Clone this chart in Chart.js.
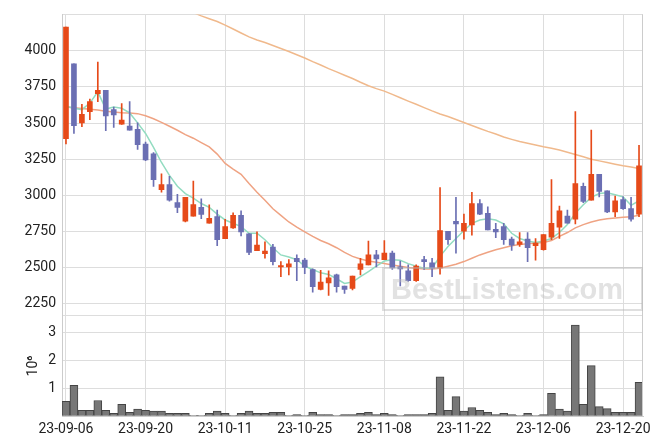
<!DOCTYPE html>
<html>
<head>
<meta charset="utf-8">
<title>Price and volume</title>
<script src="https://cdn.jsdelivr.net/npm/chart.js"></script>
<style>
  body { margin: 0; background: #fff; }
  #wrap { position: relative; width: 663px; height: 444px; }
  #mark {
    position: absolute; left: 382px; top: 267px; width: 250px; height: 40px;
    padding-left: 7px;
    border: 2px solid rgba(185, 185, 185, 0.45);
    font: bold 29px "Liberation Sans", Arial, sans-serif; line-height: 40px;
    color: rgba(190, 190, 190, 0.45); pointer-events: none; white-space: nowrap;
  }
</style>
</head>
<body>
<div id="wrap">
  <canvas id="priceChart"></canvas>
  <div id="mark">BestListens.com</div>
</div>

<script>
    // trading days shown on the x axis
    const dates = [
        '23-09-06','23-09-07','23-09-08','23-09-11','23-09-12','23-09-13','23-09-14','23-09-15','23-09-18','23-09-19',
        '23-09-20','23-09-21','23-09-22','23-09-25','23-09-26','23-09-27','23-10-04','23-10-05','23-10-06','23-10-10',
        '23-10-11','23-10-12','23-10-13','23-10-16','23-10-17','23-10-18','23-10-19','23-10-20','23-10-23','23-10-24',
        '23-10-25','23-10-26','23-10-27','23-10-30','23-10-31','23-11-01','23-11-02','23-11-03','23-11-06','23-11-07',
        '23-11-08','23-11-09','23-11-10','23-11-13','23-11-14','23-11-15','23-11-16','23-11-17','23-11-20','23-11-21',
        '23-11-22','23-11-23','23-11-24','23-11-27','23-11-28','23-11-29','23-11-30','23-12-01','23-12-04','23-12-05',
        '23-12-06','23-12-07','23-12-08','23-12-11','23-12-12','23-12-13','23-12-14','23-12-15','23-12-18','23-12-19',
        '23-12-20','23-12-21','23-12-22'
    ];
    const dateTicks = ['23-09-06','23-09-20','23-10-11','23-10-25','23-11-08','23-11-22','23-12-06','23-12-20'];

    const openPx = [
        3392,3909,3501,3579,3703,3726,3593,3492,3479,3456,
        3355,3286,3039,3074,2950,2820,2856,2916,2806,2852,
        2699,2774,2861,2733,2616,2596,2641,2504,2504,2564,
        2552,2486,2349,2394,2449,2372,2356,2486,2518,2587,
        2554,2600,2504,2477,2408,2554,2532,2497,2751,2820,
        2751,2795,2943,2875,2765,2783,2696,2660,2696,2651,
        2623,2710,2779,2856,2834,3062,2966,3145,3030,2884,
        2971,2907,2870
    ];
    const highPx = [
        4165,3909,3630,3666,3922,3726,3611,3634,3648,3501,
        3369,3296,3149,3131,3007,2985,3099,2975,2934,2898,
        2833,2879,2893,2735,2747,2678,2660,2541,2554,2587,
        2564,2490,2481,2477,2454,2372,2440,2564,2683,2619,
        2687,2614,2545,2518,2518,2577,2564,3053,2751,2985,
        2870,3021,2971,2920,2806,2806,2710,2742,2742,2701,
        2728,3108,2925,2898,3579,3085,3451,3145,3030,2994,
        2989,2985,3346
    ];
    const lowPx = [
        3355,3428,3474,3524,3648,3447,3469,3490,3451,3318,
        3240,3062,3021,2960,2879,2815,2856,2838,2806,2651,
        2699,2770,2719,2589,2616,2564,2518,2436,2449,2408,
        2458,2330,2345,2307,2330,2321,2344,2449,2518,2504,
        2554,2486,2372,2404,2404,2486,2436,2454,2660,2600,
        2696,2724,2865,2760,2706,2660,2619,2646,2541,2550,
        2620,2692,2701,2806,2802,2948,2966,2989,2880,2852,
        2902,2820,2852
    ];
    const closePx = [
        4165,3481,3561,3648,3726,3549,3556,3520,3451,3350,
        3245,3108,3074,2966,2916,2985,2936,2868,2840,2692,
        2783,2861,2747,2605,2655,2614,2541,2513,2525,2541,
        2500,2367,2399,2429,2367,2349,2440,2525,2587,2559,
        2600,2497,2490,2408,2509,2541,2495,2756,2692,2802,
        2806,2943,2870,2760,2747,2692,2655,2678,2637,2669,
        2728,2806,2893,2806,3081,2957,3145,3026,2884,2962,
        2907,2834,3204
    ];
    const volume = [
        530000,1100000,210000,210000,560000,210000,100000,420000,140000,250000,
        210000,180000,180000,100000,100000,100000,20000,20000,100000,180000,
        100000,20000,100000,180000,100000,100000,140000,140000,20000,60000,
        20000,140000,60000,60000,20000,60000,60000,100000,140000,60000,
        100000,60000,20000,60000,60000,60000,100000,1410000,210000,700000,
        180000,310000,210000,140000,60000,100000,60000,20000,100000,20000,
        60000,820000,250000,180000,3260000,420000,1810000,340000,270000,140000,
        140000,140000,1210000
    ];

    // moving averages as drawn in the picture
    const ma5 = [
        3616,3602,3593,3638,3716,3597,3611,3602,3570,3501,
        3428,3332,3227,3138,3062,3012,2980,2943,2916,2870,
        2829,2806,2783,2737,2737,2692,2637,2587,2573,2554,
        2509,2486,2463,2452,2422,2390,2399,2436,2472,2509,
        2545,2554,2550,2527,2509,2495,2497,2577,2646,2701,
        2756,2806,2829,2838,2829,2802,2737,2701,2683,2673,
        2683,2701,2742,2797,2875,2934,2985,3012,3017,3003,
        2989,2930,2962
    ];
    const ma20 = [
        3611,3606,3600,3595,3590,3581,3576,3572,3570,3565,
        3550,3530,3505,3478,3450,3420,3395,3365,3335,3285,
        3220,3181,3145,3081,3021,2966,2907,2861,2815,2779,
        2747,2715,2687,2664,2637,2605,2577,2559,2545,2536,
        2528,2518,2509,2500,2495,2490,2490,2495,2509,2522,
        2541,2564,2587,2605,2623,2637,2651,2660,2664,2669,
        2673,2687,2715,2742,2774,2797,2815,2829,2838,2843,
        2847,2852,2861
    ];
    const ma60 = [
        null,null,null,null,null,null,null,null,null,null,
        null,null,null,null,null,null,4265,4242,4222,4203,
        4178,4151,4123,4096,4075,4057,4037,4016,3995,3973,
        3950,3925,3902,3877,3854,3831,3808,3782,3758,3738,
        3721,3698,3675,3652,3630,3607,3584,3563,3545,3524,
        3504,3483,3462,3442,3424,3403,3387,3372,3360,3348,
        3336,3326,3313,3298,3282,3266,3250,3238,3227,3215,
        3204,3195,3186
    ];

    const priceTicks = [2250, 2500, 2750, 3000, 3250, 3500, 3750, 4000];
    const priceMin = 2166, priceMax = 4252;
    const volumeTicks = [1000000, 2000000, 3000000];
    const volumeMax = 3590000;

    const UP = '#e64a19', DOWN = '#6b6fb3';
    const GRID = '#dddddd';
    const candleColors = closePx.map((c, i) => c >= openPx[i] ? UP : DOWN);

    Chart.defaults.font.family = 'Roboto';
    Chart.defaults.font.size = 14;
    Chart.defaults.color = '#222';

    // right edge of the plot frame
    const frame = {
        id: 'frame',
        afterDraw(chart) {
            const a = chart.chartArea, ctx = chart.ctx;
            ctx.save();
            ctx.strokeStyle = '#cccccc';
            ctx.lineWidth = 1;
            ctx.beginPath();
            ctx.moveTo(a.right - 0.5, a.top);
            ctx.lineTo(a.right - 0.5, a.bottom);
            ctx.stroke();
            ctx.restore();
        }
    };

    const lineStyle = { type: 'line', yAxisID: 'y', pointRadius: 0, borderWidth: 1.5, tension: 0, order: 3 };

    new Chart(document.getElementById('priceChart'), {
        type: 'bar',
        data: {
            labels: dates,
            datasets: [
                { label: 'wick', yAxisID: 'y', data: lowPx.map((l, i) => [l, highPx[i]]),
                  backgroundColor: candleColors, barThickness: 1, grouped: false, order: 1 },
                { label: 'body', yAxisID: 'y', data: openPx.map((o, i) => [o, closePx[i]]),
                  backgroundColor: candleColors, barThickness: 5, grouped: false, order: 0 },
                { ...lineStyle, label: 'MA5', data: ma5, borderColor: '#93dcc1' },
                { ...lineStyle, label: 'MA20', data: ma20, borderColor: '#efa383' },
                { ...lineStyle, label: 'MA60', data: ma60, borderColor: '#f0b98c' },
                { label: 'volume', yAxisID: 'yv', data: volume, backgroundColor: '#777777',
                  borderColor: '#444444', borderWidth: 1, barPercentage: 1, categoryPercentage: 1,
                  grouped: false, order: 2 }
            ]
        },
        options: {
            responsive: true,
            maintainAspectRatio: false,
            animation: false,
            layout: { padding: { top: 9, right: 20, bottom: 1, left: 0 } },
            plugins: { legend: { display: false }, tooltip: { enabled: false } },
            scales: {
                x: {
                    offset: true,
                    grid: { offset: false, color: GRID, drawTicks: false },
                    border: { color: '#cccccc' },
                    ticks: {
                        autoSkip: false, maxRotation: 0, padding: 5,
                        callback: (v, i) => dateTicks.includes(dates[i]) ? dates[i] : null
                    }
                },
                y: {
                    position: 'left', stack: 'main', stackWeight: 3, weight: 2,
                    min: priceMin, max: priceMax,
                    afterBuildTicks: s => { s.ticks = [priceMin, ...priceTicks, priceMax].map(v => ({ value: v })); },
                    afterFit: s => { s.width = 62; },
                    grid: { color: GRID, drawTicks: false },
                    border: { color: '#cccccc' },
                    ticks: { autoSkip: false, padding: 6, callback: v => priceTicks.includes(v) ? String(v) : '' }
                },
                yv: {
                    position: 'left', stack: 'main', stackWeight: 1, weight: 1,
                    min: 0, max: volumeMax,
                    afterBuildTicks: s => { s.ticks = [0, ...volumeTicks, volumeMax].map(v => ({ value: v })); },
                    afterFit: s => { s.width = 62; },
                    grid: { color: GRID, drawTicks: false },
                    border: { color: '#cccccc' },
                    title: { display: true, text: '10\u2076', padding: { top: 25, bottom: 0 } },
                    ticks: { autoSkip: false, padding: 6, callback: v => volumeTicks.includes(v) ? String(v / 1000000) : '' }
                }
            }
        },
        plugins: [frame]
    });
</script>
</body>
</html>
